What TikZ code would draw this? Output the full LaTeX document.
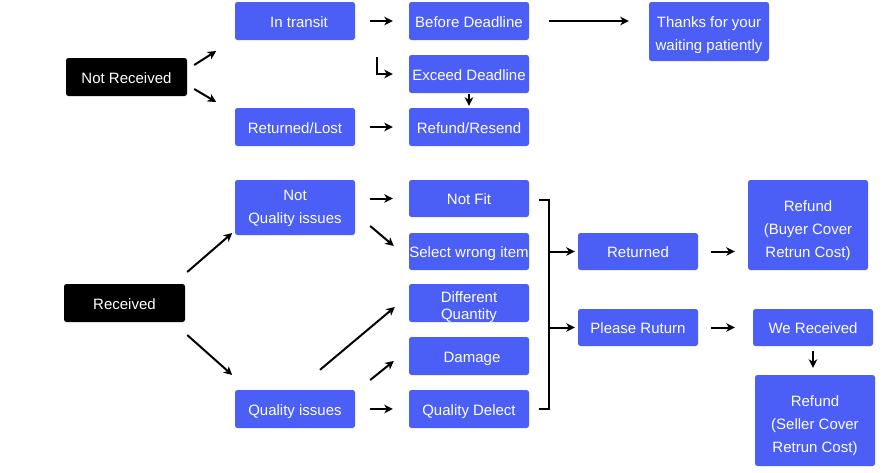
\documentclass[tikz,border=0pt]{standalone}
\usepackage{fontspec}
\setmainfont{Liberation Sans}
\usetikzlibrary{calc,arrows.meta}
\definecolor{boxblue}{RGB}{75,94,245}
\newcommand{\mlines}[2][0pt]{\raisebox{#1}[0pt][0pt]{\begin{tabular}{@{}c@{}}#2\end{tabular}}}
\tikzset{
  bbox/.style={fill=boxblue, text=white, rounded corners=2.5pt, inner sep=0pt,
    font=\fontsize{15}{23}\selectfont},
  one/.style={bbox, text height=12pt, text depth=0pt},
  kbox/.style={one, fill=black},
  arr/.style={draw=black, line width=2pt, -{Stealth[length=8.5pt,width=8.5pt,inset=2.5pt]}},
  ln/.style={draw=black, line width=2pt},
}
\begin{document}
\begin{tikzpicture}[x=1pt,y=1pt]
\useasboundingbox[fill=white] (0,0) rectangle (891,-472);
% nodes
\node[kbox, minimum width=121, minimum height=38] (nr) at (126.5,-77) {Not Received};
\node[kbox, minimum width=121, minimum height=38] (rc) at (124.5,-303) {Received};
\node[one, minimum width=120, minimum height=38] (it) at (295,-21) {\hspace*{8pt}In transit};
\node[one, minimum width=120, minimum height=38] (rl) at (295,-127) {Returned/Lost};
\node[one, minimum width=120, minimum height=38] (bd) at (469,-21) {Before Deadline};
\node[one, minimum width=120, minimum height=38] (ed) at (469,-74) {Exceed Deadline};
\node[one, minimum width=120, minimum height=38] (rr) at (469,-127) {Refund/Resend};
\node[bbox, minimum width=120, minimum height=59] (th) at (709,-31.5) {\mlines[-6.75pt]{Thanks for your\\waiting patiently}};
\node[bbox, minimum width=120, minimum height=55] (nq) at (295,-207.5) {\mlines[-3.75pt]{Not\\Quality issues}};
\node[one, minimum width=120, minimum height=38] (qi) at (295,-409) {Quality issues};
\node[one, minimum width=120, minimum height=37] (nf) at (469,-198.5) {Not Fit};
\node[one, minimum width=120, minimum height=37] (sw) at (469,-251.5) {Select wrong item};
\node[bbox, minimum width=120, minimum height=38] (dq) at (469,-303) {\fontsize{15}{17}\selectfont\mlines[-7.75pt]{Different\\Quantity}};
\node[one, minimum width=120, minimum height=38] (dm) at (469,-356) {\hspace*{6pt}Damage};
\node[one, minimum width=120, minimum height=38] (qd) at (469,-409) {Quality Delect};
\node[one, minimum width=120, minimum height=37] (rt) at (638,-251.5) {Returned};
\node[one, minimum width=120, minimum height=37] (pr) at (638,-327.5) {Please Ruturn};
\node[bbox, minimum width=120, minimum height=90] (rb) at (808,-225) {\mlines[-8.75pt]{Refund\\(Buyer Cover\\Retrun Cost)}};
\node[one, minimum width=120, minimum height=37] (wr) at (813,-327.5) {We Received};
\node[bbox, minimum width=120, minimum height=91] (rs) at (815,-420.5) {\mlines[-7.75pt]{Refund\\(Seller Cover\\Retrun Cost)}};
% not received branch
\draw[arr] ($(nr.east)+(7,12)$) -- ($(nr.east)+(29,26)$);
\draw[arr] ($(nr.east)+(7,-12)$) -- ($(nr.east)+(29,-25)$);
\draw[arr, shorten <=15pt, shorten >=16pt] (it.east) -- (bd.west);
\draw[arr, shorten <=15pt, shorten >=16pt] (rl.east) -- (rr.west);
\draw[arr] ($(ed.west)+(-32,17)$) |- ($(ed.west)+(-16,0)$);
\draw[arr, shorten <=1pt, shorten >=2pt] (ed.south) -- (rr.north);
\draw[arr, shorten <=20pt, shorten >=20pt] (bd.east) -- (bd.east -| th.west);
% received branch
\draw[arr] ($(rc.east)+(2,31)$) -- ($(rc.east)+(47,70)$);
\draw[arr] ($(rc.east)+(2,-32)$) -- ($(rc.east)+(47,-72)$);
\draw[arr, shorten <=15pt, shorten >=16pt] (nq.east |- nf.west) -- (nf.west);
\draw[arr] ($(nq.east)+(15,-18.5)$) -- ($(sw.west)+(-15,5.5)$);
\draw[arr] ($(qi.north)+(25,20)$) -- ($(dq.west)+(-14,-4)$);
\draw[arr] ($(qi.east)+(15,29)$) -- ($(dm.west)+(-15,-5)$);
\draw[arr, shorten <=15pt, shorten >=16pt] (qi.east) -- (qd.west);
% bracket
\draw[ln] ($(nf.east)+(10,-1.5)$) -- ++(10,0) coordinate (bt) -- (bt |- qd.east) -- ($(qd.east)+(10,0)$);
\draw[arr, shorten >=3pt] (bt |- rt.west) -- (rt.west);
\draw[arr, shorten >=3pt] (bt |- pr.west) -- (pr.west);
\draw[arr, shorten <=13pt, shorten >=13pt] (rt.east) -- (rt.east -| rb.west);
\draw[arr, shorten <=13pt, shorten >=18pt] (pr.east) -- (wr.west);
\draw[arr, shorten <=5pt, shorten >=7pt] (wr.south) -- (wr.south |- rs.north);
\end{tikzpicture}
\end{document}
